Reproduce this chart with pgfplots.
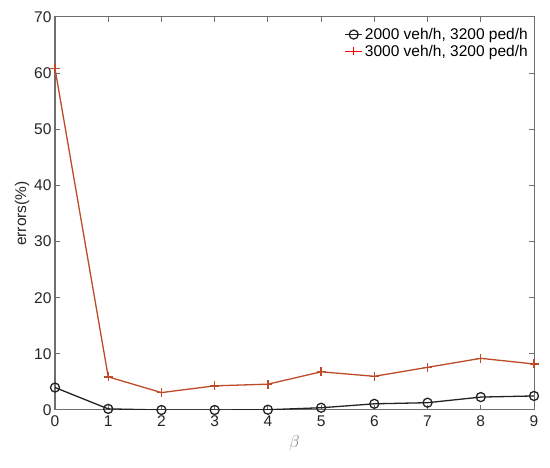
\documentclass[border=0pt]{standalone}
\usepackage{pgfplots}
\pgfplotsset{compat=1.18}
\usepackage{fontspec}
\setmainfont{Liberation Sans}
\definecolor{redline}{RGB}{190,75,40}
\definecolor{axgray}{RGB}{110,110,110}
\definecolor{blkline}{RGB}{35,35,35}
\begin{document}
\begin{tikzpicture}
\begin{axis}[
    name=ax,
    scale only axis,
    width=479pt, height=393pt,
    xmin=0, xmax=9, ymin=0, ymax=70,
    xtick={0,...,9}, ytick={0,10,...,70},
    tick align=inside,
    major tick length=5pt,
    axis line style={axgray, line width=1pt},
    tick style={axgray, line width=1pt},
    ticklabel style={font=\fontsize{15.5}{17}\selectfont, text=black!85},
    xticklabel style={yshift=-2pt},
    /pgf/number format/assume math mode=true,
    ylabel={errors(\%)},
    xlabel={$\beta$},
    xlabel style={font=\fontsize{17}{19}\selectfont, text=gray, yshift=-2pt},
    ylabel style={font=\fontsize{15.5}{17}\selectfont, text=black!85, yshift=-2pt},
    legend style={at={(1,1)}, anchor=north east, xshift=-3pt, yshift=-8pt,
        draw=none, fill=none, inner sep=1pt,
        font=\fontsize{15.5}{17}\selectfont, legend cell align=left,
        row sep=0pt},
]
\addplot[blkline, line width=1.3pt, mark=o, mark size=4.5pt, mark options={line width=1.3pt}] coordinates {
    (0,4.0) (1,0.2) (2,0.0) (3,0.0) (4,0.05) (5,0.4) (6,1.1) (7,1.3) (8,2.3) (9,2.5)};
\addlegendentry{2000 veh/h, 3200 ped/h}
\addplot[redline, line width=1.3pt, mark=+, mark size=4.5pt,
    legend image code/.code={\draw[red, line width=1.3pt] (0cm,0cm) -- (0.6cm,0cm);
        \draw[red, line width=1.3pt] (0.3cm,-4pt) -- (0.3cm,4pt);}] coordinates {
    (0,60.8) (1,5.9) (2,3.1) (3,4.3) (4,4.6) (5,6.8) (6,6.0) (7,7.6) (8,9.2) (9,8.2)};
\addlegendentry{3000 veh/h, 3200 ped/h}
\end{axis}
\useasboundingbox (ax.south west) ++(-55pt,-58pt) rectangle ([xshift=16pt,yshift=17pt]ax.north east);
\end{tikzpicture}
\end{document}
